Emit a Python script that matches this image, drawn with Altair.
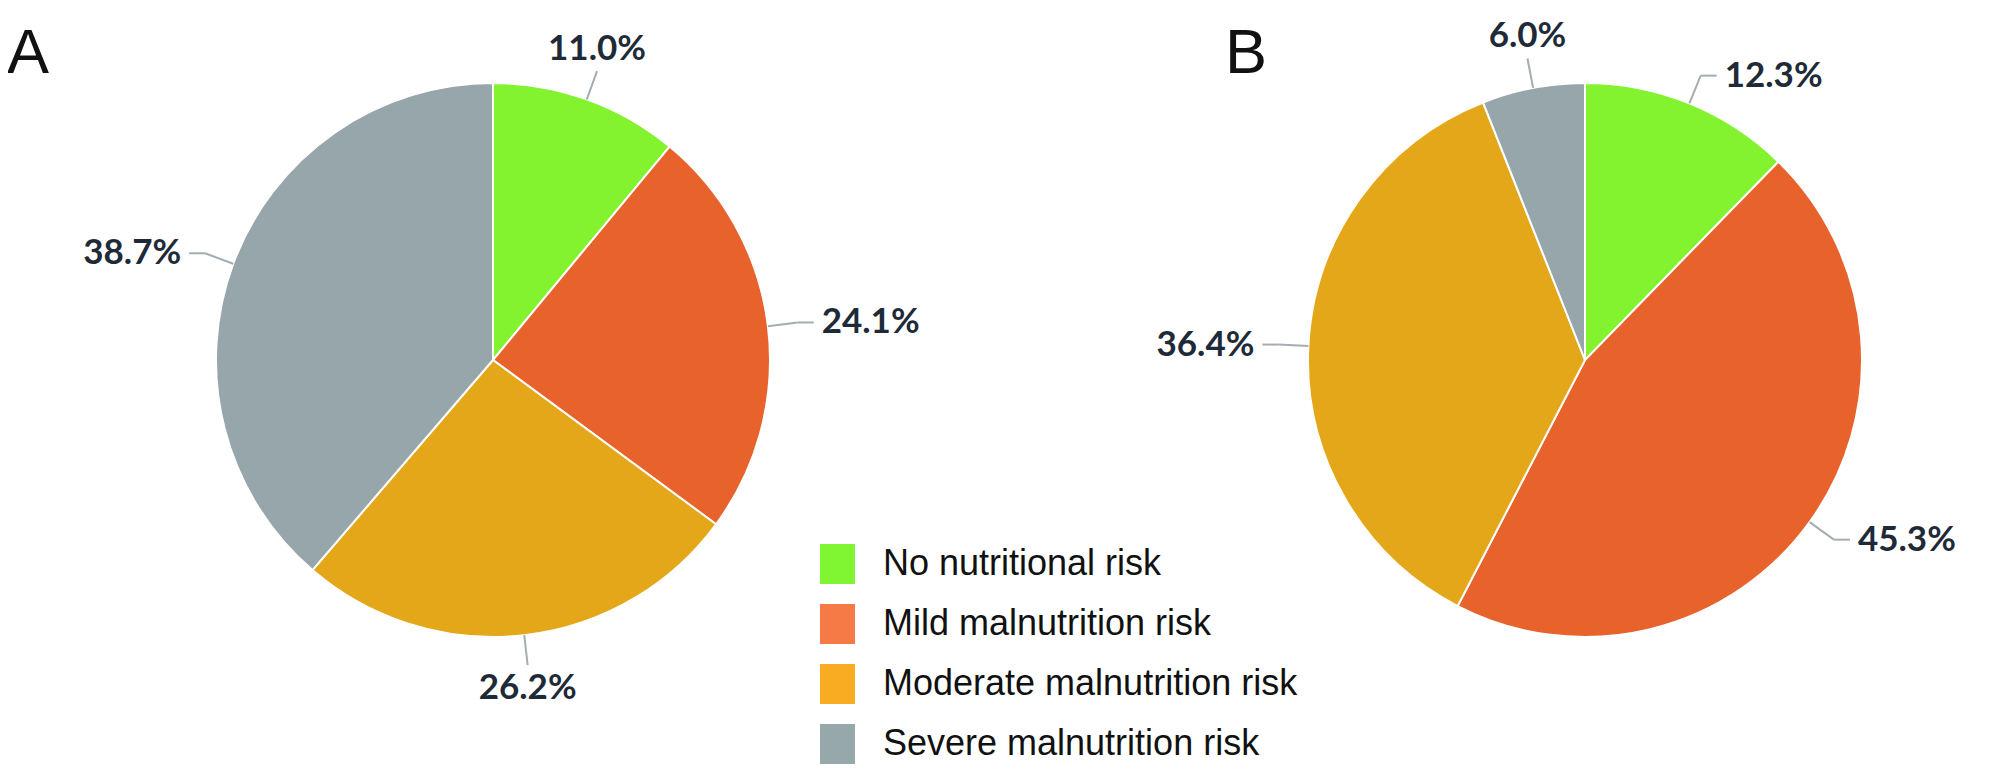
import math
import altair as alt
import pandas as pd

# ---------------- data ----------------
categories = [
    "No nutritional risk",
    "Mild malnutrition risk",
    "Moderate malnutrition risk",
    "Severe malnutrition risk",
]
panel_names = ["A", "B"]
panel_a_pct = [11.0, 24.1, 26.2, 38.7]
panel_b_pct = [12.3, 45.3, 36.4, 6.0]

pie_colors = ["#82F32E", "#E8622C", "#E5A71A", "#97A6AA"]
legend_colors = ["#80F531", "#F67A45", "#F9AC22", "#97A8AC"]

# ---------------- layout ----------------
W, H = 1992, 756
M = 8
R = 277

rows = []
for panel, vals in zip(panel_names, [panel_a_pct, panel_b_pct]):
    for i, (c, v) in enumerate(zip(categories, vals)):
        rows.append({"panel": panel, "category": c, "order": i, "value": v})
df = pd.DataFrame(rows)

leg_df = pd.DataFrame({"category": categories, "color": legend_colors,
                       "row": list(range(len(categories)))})
letters_df = pd.DataFrame({"panel": panel_names})

xs = alt.Scale(domain=[M, M + W], range=[0, W], nice=False, zero=False)
ys = alt.Scale(domain=[M, M + H], range=[0, H], nice=False, zero=False)

base = alt.Chart(df).transform_window(
    cum="sum(value)", sort=[alt.SortField("order")], groupby=["panel"], frame=[None, 0]
).transform_calculate(
    t0="datum.cum - datum.value",
).transform_calculate(
    t1="datum.cum",
).transform_calculate(
    ang="(datum.cum - datum.value / 2) / 100 * 2 * PI",
).transform_calculate(
    cx="datum.panel == 'A' ? 493 : 1585",
).transform_calculate(
    cy="360",
).transform_calculate(
    s="sin(datum.ang)",
).transform_calculate(
    c="cos(datum.ang)",
).transform_calculate(
    x0=f"datum.cx + {R} * datum.s",
).transform_calculate(
    y0=f"datum.cy - {R} * datum.c",
).transform_calculate(
    x1=f"datum.cx + {R + 30} * datum.s",
).transform_calculate(
    y1=f"datum.cy - {R + 30} * datum.c",
).transform_calculate(
    side="abs(datum.s) < 0.36 ? (datum.c > 0 ? 'top' : 'bottom') : (datum.s > 0 ? 'right' : 'left')",
).transform_calculate(
    sg="datum.side == 'right' ? 1 : (datum.side == 'left' ? -1 : 0)",
).transform_calculate(
    xh="datum.x1 + datum.sg * 16",
).transform_calculate(
    tx="datum.x1 + datum.sg * 24",
).transform_calculate(
    ty="datum.side == 'top' ? datum.y1 - 4 : (datum.side == 'bottom' ? datum.y1 + 6 : datum.y1)",
).transform_calculate(
    label="format(datum.value, '.1f') + '%'",
)

arcs = base.mark_arc(outerRadius=R, stroke="white", strokeWidth=2).encode(
    x=alt.X("cx:Q", scale=xs, axis=None),
    y=alt.Y("cy:Q", scale=ys, axis=None),
    theta=alt.Theta("t0:Q", stack=None,
                    scale=alt.Scale(domain=[0, 100], range=[0, 2 * math.pi])),
    theta2="t1:Q",
    color=alt.Color("category:N", scale=alt.Scale(domain=categories, range=pie_colors),
                    legend=None),
)

lead_color = "#A3ADB3"
leaders = base.mark_rule(color=lead_color, strokeWidth=2).encode(
    x=alt.X("x0:Q", scale=xs, axis=None),
    y=alt.Y("y0:Q", scale=ys, axis=None),
    x2="x1:Q",
    y2="y1:Q",
)
elbows = base.transform_filter("datum.sg != 0").mark_rule(
    color=lead_color, strokeWidth=2
).encode(
    x=alt.X("x1:Q", scale=xs, axis=None),
    y=alt.Y("y1:Q", scale=ys, axis=None),
    x2="xh:Q",
    y2="y1:Q",
)

label_font = dict(font="Lato", fontWeight="bold", fontSize=35, color="#1E2A38")
label_layers = []
for side, align, baseline in [("right", "left", "middle"), ("left", "right", "middle"),
                              ("top", "center", "bottom"), ("bottom", "center", "top")]:
    label_layers.append(
        base.transform_filter(f"datum.side == '{side}'").mark_text(
            align=align, baseline=baseline, **label_font
        ).encode(
            x=alt.X("tx:Q", scale=xs, axis=None),
            y=alt.Y("ty:Q", scale=ys, axis=None),
            text="label:N",
        )
    )

leg_base = alt.Chart(leg_df).transform_calculate(
    yc="564 + 60 * datum.row"
).transform_calculate(
    ya="datum.yc - 20"
).transform_calculate(
    yb="datum.yc + 20"
).transform_calculate(
    xa="820"
).transform_calculate(
    xb="855"
).transform_calculate(
    xt="883"
)
leg_rects = leg_base.mark_rect().encode(
    x=alt.X("xa:Q", scale=xs, axis=None),
    x2="xb:Q",
    y=alt.Y("ya:Q", scale=ys, axis=None),
    y2="yb:Q",
    fill=alt.Fill("color:N", scale=None),
)
leg_text = leg_base.mark_text(
    align="left", baseline="middle", font="Liberation Sans", fontSize=36, color="#111111"
).encode(
    x=alt.X("xt:Q", scale=xs, axis=None),
    y=alt.Y("yc:Q", scale=ys, axis=None),
    text="category:N",
)

letters = alt.Chart(letters_df).transform_calculate(
    lx="datum.panel == 'A' ? 7 : 1225"
).transform_calculate(
    ly="73"
).mark_text(
    align="left", baseline="alphabetic", font="Liberation Sans", fontSize=63, color="#111111"
).encode(
    x=alt.X("lx:Q", scale=xs, axis=None),
    y=alt.Y("ly:Q", scale=ys, axis=None),
    text="panel:N",
)

chart = alt.layer(
    arcs, leaders, elbows, *label_layers, leg_rects, leg_text, letters
).properties(
    width=W, height=H, autosize=alt.AutoSizeParams(type="none"), padding=0
).configure_view(stroke=None)

chart.save("out.html", embed_options={"renderer": "svg", "actions": False})
